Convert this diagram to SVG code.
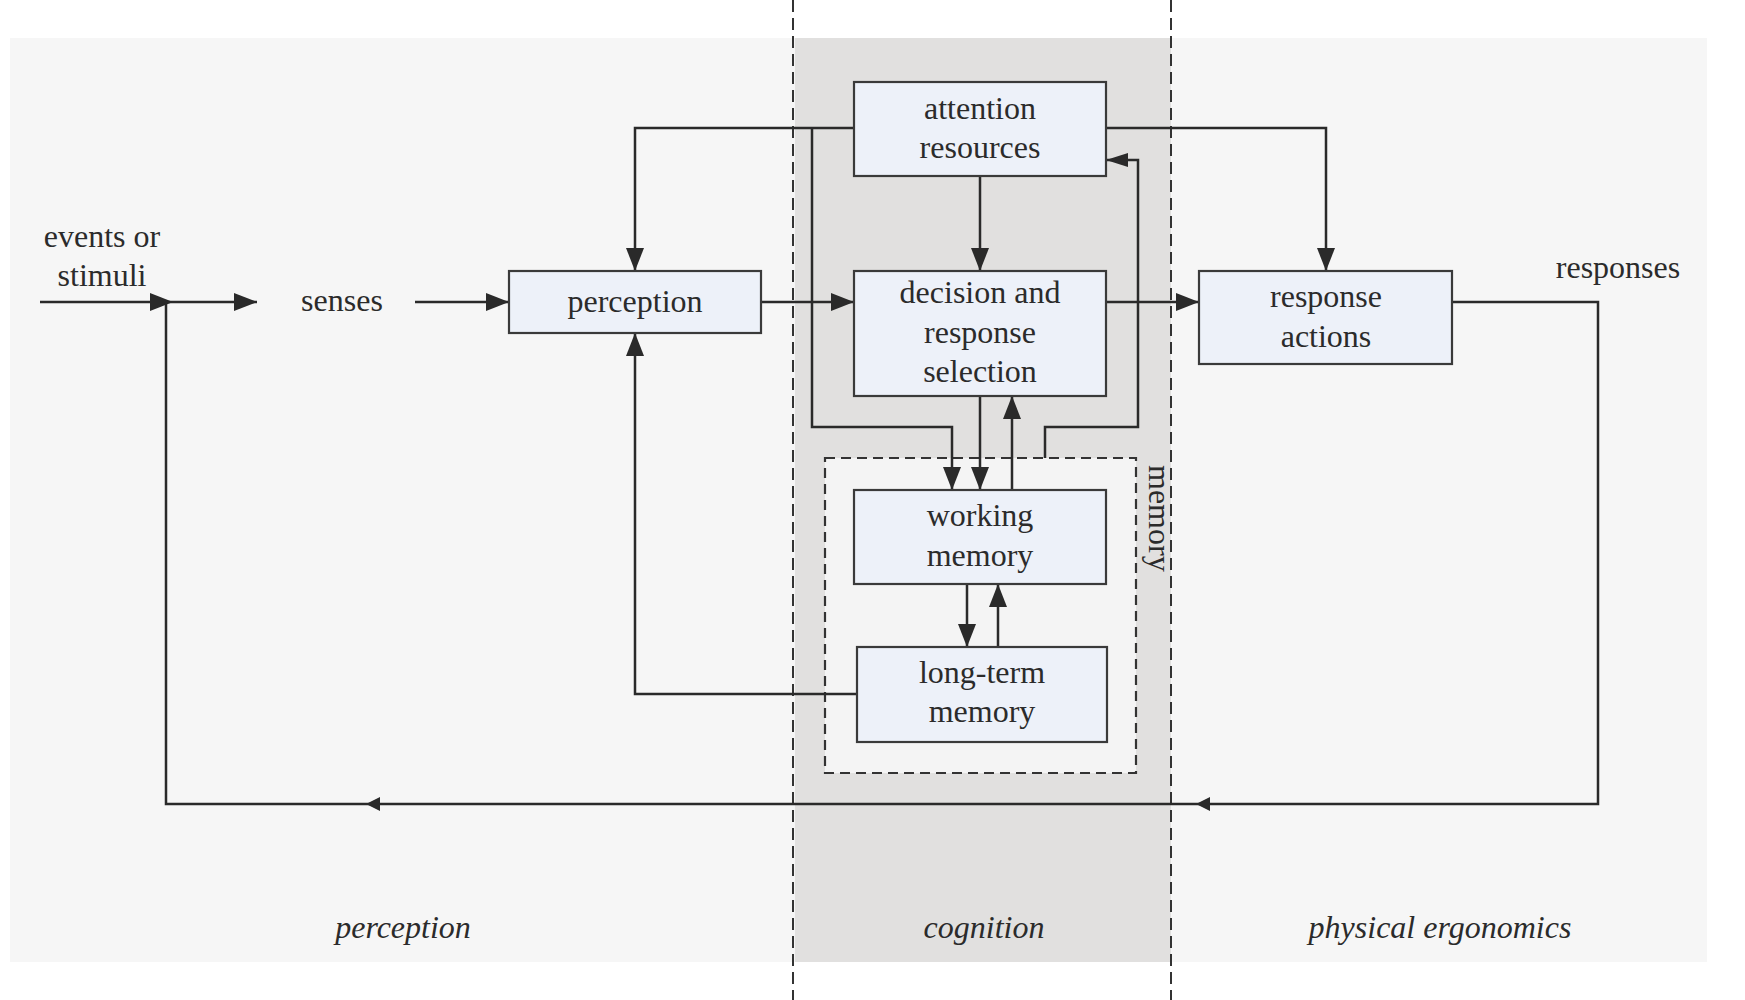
<svg xmlns="http://www.w3.org/2000/svg" width="1745" height="1000" viewBox="0 0 1745 1000">
<style>
.box{fill:#EDF1F9;stroke:#3a3a3a;stroke-width:2.2}
.lbl{font-family:"Liberation Serif","Times New Roman",serif;font-size:32px;fill:#2b2b2b;text-anchor:middle}
.it{font-style:italic}
.ln{fill:none;stroke:#2a2a2a;stroke-width:2.5}
.dash{fill:none;stroke:#333;stroke-width:2;stroke-dasharray:12 6}
</style>
<defs>
<marker id="arr" markerUnits="userSpaceOnUse" markerWidth="23" markerHeight="18" refX="23" refY="9" orient="auto">
<path d="M0,0 L23,9 L0,18 z" fill="#2a2a2a"/>
</marker>
<marker id="arrs" markerUnits="userSpaceOnUse" markerWidth="22" markerHeight="14" refX="22" refY="7" orient="auto">
<path d="M0,0 L22,7 L0,14 z" fill="#2a2a2a"/>
</marker>
</defs>
<rect x="0" y="0" width="1745" height="1000" fill="#ffffff"/>
<g id="zones">
<rect x="10" y="38" width="1697" height="924" fill="#F6F6F6"/>
<rect x="795" y="38" width="376" height="924" fill="#E1E0DF"/>
<rect id="memory-group" x="825" y="458" width="311" height="315" fill="#F4F4F4" stroke="#333" stroke-width="2.2" stroke-dasharray="10 6"/>
<text class="lbl" x="1149" y="465" style="text-anchor:start" transform="rotate(90 1149 465)">memory</text>
<line class="dash" x1="793" y1="0" x2="793" y2="1000"/>
<line class="dash" x1="1171" y1="0" x2="1171" y2="1000"/>
<text class="lbl it" x="403" y="938">perception</text>
<text class="lbl it" x="984" y="938">cognition</text>
<text class="lbl it" x="1440" y="938">physical ergonomics</text>
</g>
<g id="connectors">
<path class="ln" d="M40,302 H173" marker-end="url(#arr)"/>
<path class="ln" d="M173,302 H257" marker-end="url(#arr)"/>
<path class="ln" d="M415,302 H509" marker-end="url(#arr)"/>
<path class="ln" d="M761,302 H854" marker-end="url(#arr)"/>
<path class="ln" d="M1106,302 H1199" marker-end="url(#arr)"/>
<path class="ln" d="M854,128 H635 V271" marker-end="url(#arr)"/>
<path class="ln" d="M812,128 V427 H952 V490" marker-end="url(#arr)"/>
<path class="ln" d="M980,176 V271" marker-end="url(#arr)"/>
<path class="ln" d="M1106,128 H1326 V271" marker-end="url(#arr)"/>
<path class="ln" d="M980,396 V490" marker-end="url(#arr)"/>
<path class="ln" d="M1012,490 V396" marker-end="url(#arr)"/>
<path class="ln" d="M1045,458 V427 H1138 V160 H1106" marker-end="url(#arrs)"/>
<path class="ln" d="M967,584 V647" marker-end="url(#arr)"/>
<path class="ln" d="M998,647 V584" marker-end="url(#arr)"/>
<path class="ln" d="M857,694 H635 V333" marker-end="url(#arr)"/>
<path class="ln" d="M1452,302 H1598 V804 H166 V302"/>
<polygon points="1196,804 1210,797 1210,811" fill="#2a2a2a"/>
<polygon points="366,804 380,797 380,811" fill="#2a2a2a"/>
</g>
<g id="events">
<text class="lbl" x="102" y="247">events or</text>
<text class="lbl" x="102" y="286">stimuli</text>
</g>
<g id="senses">
<text class="lbl" x="342" y="311">senses</text>
</g>
<g id="perception">
<rect class="box" x="509" y="271" width="252" height="62"/>
<text class="lbl" x="635" y="312">perception</text>
</g>
<g id="attention">
<rect class="box" x="854" y="82" width="252" height="94"/>
<text class="lbl" x="980" y="119">attention</text>
<text class="lbl" x="980" y="158">resources</text>
</g>
<g id="decision">
<rect class="box" x="854" y="271" width="252" height="125"/>
<text class="lbl" x="980" y="303">decision and</text>
<text class="lbl" x="980" y="343">response</text>
<text class="lbl" x="980" y="382">selection</text>
</g>
<g id="response">
<rect class="box" x="1199" y="271" width="253" height="93"/>
<text class="lbl" x="1326" y="307">response</text>
<text class="lbl" x="1326" y="347">actions</text>
</g>
<g id="working">
<rect class="box" x="854" y="490" width="252" height="94"/>
<text class="lbl" x="980" y="526">working</text>
<text class="lbl" x="980" y="566">memory</text>
</g>
<g id="longterm">
<rect class="box" x="857" y="647" width="250" height="95"/>
<text class="lbl" x="982" y="683">long-term</text>
<text class="lbl" x="982" y="722">memory</text>
</g>
<g id="responses">
<text class="lbl" x="1618" y="278">responses</text>
</g>
</svg>
